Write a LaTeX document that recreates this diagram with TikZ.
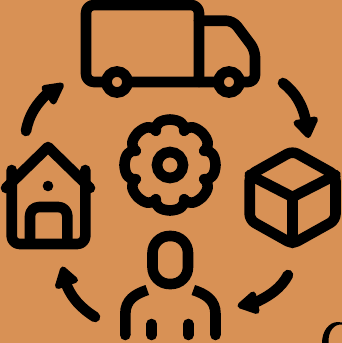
\documentclass[tikz,border=0pt]{standalone}
\definecolor{bgc}{HTML}{D89155}
\tikzset{
  icon/.style={draw=black,line width=10.6pt,line join=round,line cap=round},
  flat/.style={draw=black,line width=10.6pt,line join=round,line cap=butt},
  head/.style={draw=black,fill=black,line width=6pt,line join=round},
}
\begin{document}
\begin{tikzpicture}[x=1pt,y=-1pt]
\useasboundingbox (0,0) rectangle (342,343);
\fill[bgc] (0,0) rectangle (342,343);
% truck
\draw[icon,rounded corners=8pt] (199,82) -- (86,82) -- (86,5) -- (199,5) -- (199,82);
\draw[icon,rounded corners=7pt] (199,20.7) -- (233,20.7) -- (255,50) -- (255,82) -- (199,82);
\draw[draw=black,fill=bgc,line width=10.6pt] (117,82) circle (10.5);
\draw[draw=black,fill=bgc,line width=10.6pt] (229,82) circle (10.5);
% arrows
\draw[icon] (26,131) .. controls (29,115) and (36,104) .. (49,92);
\draw[head] (44.5,88) -- (61,85.5) -- (53.5,101.5) -- cycle;
\draw[icon] (283,83) .. controls (295,92) and (303,105) .. (306,122);
\draw[head] (296.5,123) -- (315,119.5) -- (308,135) -- cycle;
\draw[icon] (288,275) .. controls (281,288) and (270,296) .. (252,304);
\draw[head] (253,294.5) -- (240.5,305.5) -- (256.5,311) -- cycle;
\draw[icon] (95,317) .. controls (81,308) and (71,298) .. (65,281);
\draw[head] (63,269.5) -- (58,286) -- (75,280) -- cycle;
% gear
\begin{scope}[shift={(170,165)}]
\draw[draw=black,line width=10.6pt,line join=round]
  (-22.5:37)
  \foreach \a [evaluate=\a as \s using \a-22.5,
               evaluate=\a as \p using \a-20,
               evaluate=\a as \q using \a-12,
               evaluate=\a as \t using \a+12,
               evaluate=\a as \u using \a+20,
               evaluate=\a as \v using \a+22.5] in {0,45,...,315}
  { .. controls (\p:44) and (\q:46) .. (\a:45.5)
    .. controls (\t:46) and (\u:44) .. (\v:37) }
  -- cycle;
\draw[draw=black,line width=10.6pt] (0,0) circle (13);
\end{scope}
% house
\draw[icon] (6,188) -- (48,147) -- (90,188);
\draw[icon,rounded corners=8pt] (11.7,170) -- (11.7,244) -- (85.3,244) -- (85.3,170);
\draw[flat,rounded corners=9pt] (30,244) -- (30,207) -- (67.3,207) -- (67.3,244);
\fill[black] (48,186) circle (5.3);
% box
\draw[icon,rounded corners=6pt] (292.5,151) -- (335.5,175) -- (335.5,220) -- (292.5,244) -- (249.7,220) -- (249.7,175) -- cycle;
\draw[icon] (249.7,175) -- (292.5,197) -- (335.5,175);
\draw[icon] (292.5,197) -- (292.5,243);
% person
\draw[draw=black,line width=10.6pt,rounded corners=17pt] (152.5,236) rectangle (188,284);
\draw[icon,line cap=butt] (147.3,290) .. controls (135,294) and (125.3,300) .. (125.3,314) -- (125.3,335);
\draw[icon,line cap=butt] (193.3,290) .. controls (205.6,294) and (215.5,300) .. (215.5,314) -- (215.5,335);
\fill[black] (125.3,335) circle (5.3);
\fill[black] (215.5,335) circle (5.3);
\draw[icon] (151.7,324) -- (151.7,335);
\draw[icon] (188.3,324) -- (188.3,335);
% cropped glyph in the corner
\fill[black] (322,343) .. controls (322,331) and (329,322) .. (338,322) -- (342,322.5) -- (342,324.5)
  .. controls (334,324) and (328,331) .. (328.5,343) -- cycle;
\end{tikzpicture}
\end{document}
